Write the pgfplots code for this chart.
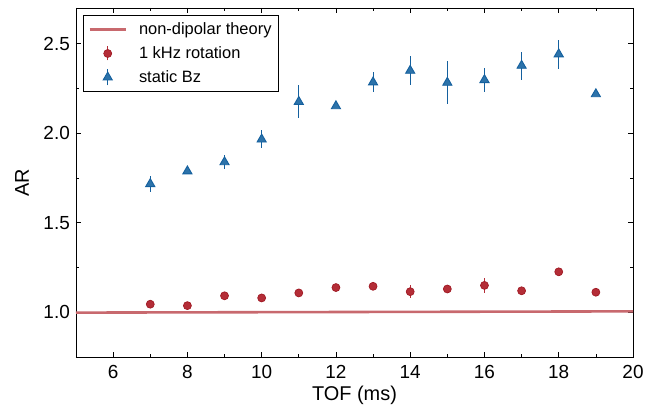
\documentclass[border=0pt]{standalone}
\usepackage{pgfplots}
\pgfplotsset{compat=1.18}
\usepackage{fontspec}
\setmainfont{Liberation Sans}
\definecolor{cred}{RGB}{180,45,55}
\definecolor{credge}{RGB}{160,25,35}
\definecolor{cline}{RGB}{200,105,110}
\definecolor{cblue}{RGB}{20,96,158}
\definecolor{cbluefill}{RGB}{45,115,170}
\pgfplotsset{
  lineleg/.style={legend image code/.code={\draw[##1] (0bp,0bp) -- (36bp,0bp);}},
  redleg/.style={legend image code/.code={\draw[cred, line width=1.1pt] (18bp,-7bp) -- (18bp,7bp); \draw[mark repeat=2, mark phase=2, ##1] plot coordinates {(0bp,0bp) (18bp,0bp) (36bp,0bp)};}},
  blueleg/.style={legend image code/.code={\draw[cblue, line width=1.1pt] (18bp,-8bp) -- (18bp,8bp); \draw[mark repeat=2, mark phase=2, ##1] plot coordinates {(0bp,0bp) (18bp,0bp) (36bp,0bp)};}},
}
\begin{document}
\begin{tikzpicture}
\begin{axis}[
  scale only axis,
  width=557bp, height=349bp,
  xmin=5, xmax=20, ymin=0.75, ymax=2.7,
  xtick={6,8,...,20}, minor xtick={5,7,...,19},
  ytick={1.0,1.5,2.0,2.5}, minor ytick={0.75,1.25,1.75,2.25},
  tick align=inside, tick pos=both,
  major tick length=5bp, minor tick length=3bp,
  every tick/.style={black, line width=0.7pt},
  axis line style={black, line width=0.9pt},
  /pgf/number format/assume math mode=true,
  yticklabel style={/pgf/number format/fixed, /pgf/number format/fixed zerofill, /pgf/number format/precision=1,
     anchor=east, inner sep=0pt, xshift=-6bp},
  xticklabel style={anchor=base, inner sep=0pt, yshift=-21bp},
  ticklabel style={font=\fontsize{19}{22}\selectfont},
  label style={font=\fontsize{20}{24}\selectfont},
  xlabel={TOF (ms)}, ylabel={AR},
  xlabel style={at={(rel axis cs:0.5,0)}, anchor=center, yshift=-38bp, inner sep=0pt},
  ylabel style={at={(rel axis cs:0,0.5)}, anchor=center, xshift=0bp, yshift=54bp, inner sep=0pt},
  legend style={at={(rel axis cs:0,1)}, xshift=7bp, yshift=-7.5bp, anchor=north west, draw=black, line width=0.9pt,
    font=\fontsize{16.5}{20}\selectfont, row sep=6.5pt, inner xsep=5pt, inner ysep=5pt, cells={anchor=west},
    /tikz/every odd column/.append style={column sep=10bp}},
  legend cell align=left,
]
\addplot[cline, line width=2.6pt, lineleg] coordinates {(5,0.998) (20,1.005)};
\addlegendentry{non-dipolar theory}

\addplot[only marks, mark=*, mark size=4pt, color=cred, mark options={fill=cred, draw=credge, line width=0.7pt}, redleg,
  error bars/.cd, y dir=both, y explicit, error bar style={line width=1.1pt, color=cred}, error mark=none]
  coordinates {
  (7,1.045) +- (0,0.012)
  (8,1.037) +- (0,0.012)
  (9,1.092) +- (0,0.012)
  (10,1.080) +- (0,0.022)
  (11,1.108) +- (0,0.012)
  (12,1.138) +- (0,0.012)
  (13,1.145) +- (0,0.012)
  (14,1.115) +- (0,0.035)
  (15,1.130) +- (0,0.012)
  (16,1.150) +- (0,0.040)
  (17,1.120) +- (0,0.012)
  (18,1.226) +- (0,0.012)
  (19,1.112) +- (0,0.012)
  };
\addlegendentry{1 kHz rotation}

\addplot[only marks, mark=triangle*, mark size=5.3pt, color=cblue, mark options={fill=cbluefill, draw=cblue, line width=0.9pt}, blueleg,
  error bars/.cd, y dir=both, y explicit, error bar style={line width=1.1pt, color=cblue}, error mark=none]
  coordinates {
  (7,1.717) +- (0,0.044)
  (8,1.788) +- (0,0.012)
  (9,1.839) +- (0,0.037)
  (10,1.966) +- (0,0.050)
  (11,2.176) +- (0,0.093)
  (12,2.152) +- (0,0.012)
  (13,2.285) +- (0,0.056)
  (14,2.350) +- (0,0.083)
  (15,2.283) +- (0,0.119)
  (16,2.298) +- (0,0.066)
  (17,2.378) +- (0,0.078)
  (18,2.442) +- (0,0.081)
  (19,2.219) +- (0,0.012)
  };
\addlegendentry{static Bz}
\end{axis}
\pgfresetboundingbox
\path[use as bounding box] (-76bp,-54bp) rectangle (587bp,357bp);
\end{tikzpicture}
\end{document}
